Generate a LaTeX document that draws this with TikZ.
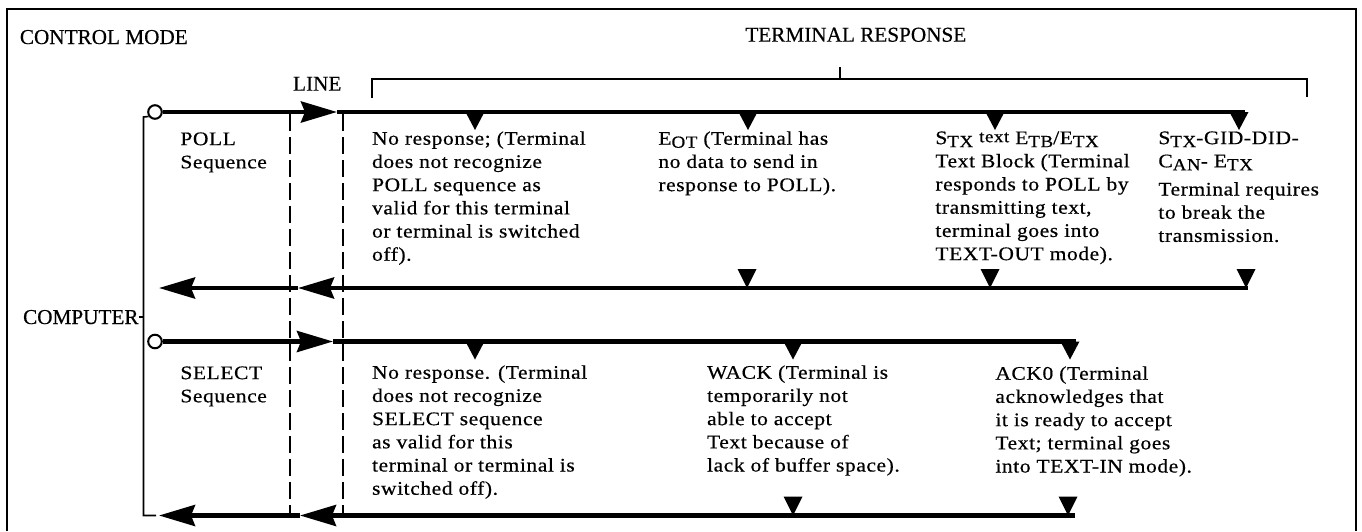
\documentclass[tikz,border=0pt]{standalone}
\usepackage{fontspec}
\setmainfont[FakeBold=0.4]{Liberation Serif}
\newfontfamily\bodyfont[FakeStretch=1.12,LetterSpace=3,FakeBold=0.5]{Liberation Serif}
\usetikzlibrary{arrows.meta}

% small lowered capitals for control characters (E_OT, S_TX, ...)
\newcommand\subcaps[1]{\raisebox{-1.5pt}{\fontsize{8.5}{8.5}\selectfont #1}}
% small raised lowercase word
\newcommand\uptext[1]{\raisebox{1pt}{\fontsize{8.5}{8.5}\selectfont #1}}
% timing markers: filled triangles pointing down
\newcommand\mkbelow[2]{\fill (#1-9.5,#2) -- (#1+9.5,#2) -- (#1,#2+18) -- cycle;}
\newcommand\mkabove[2]{\fill (#1-9.5,#2-19) -- (#1+9.5,#2-19) -- (#1,#2) -- cycle;}

\tikzset{
  frame/.style={line width=1.4pt},
  wire/.style={line width=2.2pt},
  head/.style={-{Stealth[length=18pt,width=10.5pt,inset=2pt]}},
  guide/.style={line width=0.7pt,dash pattern=on 8.5pt off 3pt},
  bracket/.style={line width=0.8pt},
  heading/.style={font=\fontsize{10.6}{12}\selectfont,inner sep=0pt,anchor=base west},
  note/.style={font=\bodyfont\fontsize{9.6}{11.6}\selectfont,align=left,inner sep=0pt,
               anchor=north west,execute at begin node={\rule{0pt}{8pt}}},
  port/.style={circle,draw,line width=1pt,fill=white,inner sep=0pt,minimum size=6.8pt}
}

\begin{document}
\begin{tikzpicture}[x=0.5pt,y=-0.5pt]
\fill[white] (0,0) rectangle (1362,531);
\useasboundingbox (0,0) rectangle (1362,531);

% outer frame (open at the bottom)
\draw[frame] (7,531) -- (7,9) -- (1356,9) -- (1356,531);

% headings
\node[heading] (mode) at (19.5,44) {CONTROL MODE};
\node[heading] (resp) at (745,41.7) {TERMINAL RESPONSE};
\node[heading] (line) at (292.7,90.7) {LINE};
\node[heading] (comp) at (22.7,324) {COMPUTER};

% brace over the terminal responses
\coordinate (tl) at (372,98);
\coordinate (tl2) at (372,79);
\coordinate (tr2) at (1307,79);
\coordinate (tr) at (1307,97);
\coordinate (tc) at (840,79);
\coordinate (tct) at (840,67);
\draw[bracket] (tl) -- (tl2) -- (tr2) -- (tr);
\draw[bracket] (tc) -- (tct);

% line boundaries
\coordinate (g1t) at (290,114);
\coordinate (g1b) at (290,514);
\coordinate (g2t) at (343,114);
\coordinate (g2b) at (343,514);
\draw[guide] (g1t) -- (g1b);
\draw[guide] (g2t) -- (g2b);

% start points of the two sequences
\node[port] (pc) at (155,112) {};
\node[port] (sc) at (155,341.5) {};

% computer bracket
\coordinate (lt) at (143.5,117);
\coordinate (lb) at (143.5,515.5);
\coordinate (lbe) at (156,515.5);
\draw[bracket] (pc.215) -- (lt) -- (lb) -- (lbe);
\draw[bracket] (comp.east) -- (comp.east -| lt);

% POLL: outgoing and return
\coordinate (pa) at (337,112);
\coordinate (pe) at (1245,112);
\draw[wire,head] (pc) -- (pa);
\draw[wire] (pa) -- (pe);
\coordinate (r1s) at (1248,288);
\coordinate (r1m) at (298,288);
\coordinate (r1t) at (159,288);
\draw[wire,head] (r1s) -- (r1m);
\draw[wire,head] (r1m) -- (r1t);

% SELECT: outgoing and return
\coordinate (sa) at (333,341.5);
\coordinate (se) at (1076,341.5);
\draw[wire,head] (sc) -- (sa);
\draw[wire] (sa) -- (se);
\coordinate (r2s) at (1075,515.5);
\coordinate (r2m) at (300,515.5);
\coordinate (r2t) at (159,515.5);
\draw[wire,head] (r2s) -- (r2m);
\draw[wire,head] (r2m) -- (r2t);

% timing markers
\mkbelow{475}{112}
\mkbelow{748}{112}
\mkbelow{995}{112}
\mkbelow{1239}{112}
\mkabove{747}{288}
\mkabove{990}{288}
\mkabove{1246}{288}
\mkbelow{475}{341.5}
\mkbelow{793}{341.5}
\mkbelow{1070}{341.5}
\mkabove{793}{515.5}
\mkabove{1068}{515.5}

% sequence labels
\node[note] (pl) at (180,132) {POLL\\Sequence};
\node[note] (sl) at (180,366) {SELECT\\Sequence};

% responses to POLL
\node[note] (p1) at (371.7,131) {No response; (Terminal\\does not recognize\\POLL sequence as\\valid for this terminal\\or terminal is switched\\off).};
\node[note] (p2) at (658,131) {E\subcaps{OT} (Terminal has\\no data to send in\\response to POLL).};
\node[note] (p3) at (935,131) {S\subcaps{TX} \uptext{text} E\subcaps{TB}/E\subcaps{TX}\\Text Block (Terminal\\responds to POLL by\\transmitting text,\\terminal goes into\\TEXT-OUT mode).};
\node[note] (p4) at (1158,131) {S\subcaps{TX}-GID-DID-\\C\subcaps{AN}- E\subcaps{TX}\\[2.5pt]Terminal requires\\to break the\\transmission.};

% responses to SELECT
\node[note] (s1) at (371.7,365) {No response. (Terminal\\does not recognize\\SELECT sequence\\as valid for this\\terminal or terminal is\\switched off).};
\node[note] (s2) at (706.7,365) {WACK (Terminal is\\temporarily not\\able to accept\\Text because of\\lack of buffer space).};
\node[note] (s3) at (995,366) {ACK0 (Terminal\\acknowledges that\\it is ready to accept\\Text; terminal goes\\into TEXT-IN mode).};
\end{tikzpicture}
\end{document}
